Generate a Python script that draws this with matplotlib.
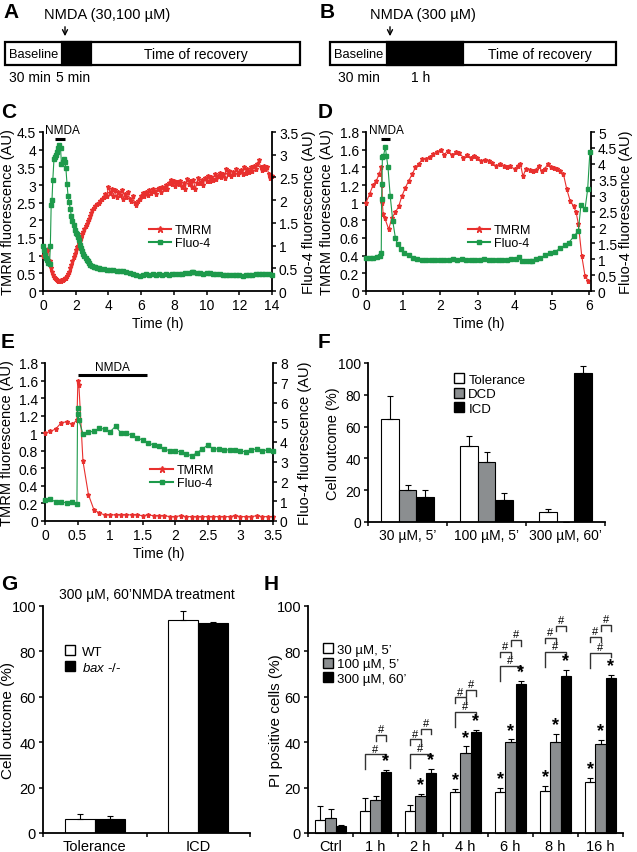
import matplotlib.pyplot as plt
import numpy as np
from matplotlib.patches import Rectangle, Patch
from matplotlib.lines import Line2D
from matplotlib.ticker import FormatStrFormatter

plt.rcParams['font.family'] = ['Liberation Sans', 'DejaVu Sans']
plt.rcParams['font.size'] = 9
plt.rcParams['mathtext.fontset'] = 'custom'
plt.rcParams['mathtext.rm'] = 'Liberation Sans'
plt.rcParams['mathtext.it'] = 'Liberation Sans:italic'

RED = '#e8302e'
GREEN = '#1d9a4b'
GRAY = '#8b8e90'

# ---- panel C: 30/100 uM, 5 min ----
c_tmrm_t = [0.0, 0.07, 0.13, 0.2, 0.27, 0.33, 0.4, 0.47, 0.53, 0.6, 0.67, 0.73, 0.8, 0.87, 0.93,
            1.0, 1.07, 1.13, 1.2, 1.27, 1.33, 1.4, 1.47, 1.53, 1.6, 1.67, 1.73, 1.8, 1.87, 1.93,
            2.0, 2.07, 2.13, 2.2, 2.27, 2.33, 2.4, 2.47, 2.53, 2.6, 2.67, 2.73, 2.8, 2.87, 2.93,
            3.0, 3.1, 3.2, 3.3, 3.4, 3.5, 3.6, 3.7, 3.8, 3.9, 4.0, 4.1, 4.2, 4.3, 4.4, 4.5, 4.6,
            4.7, 4.8, 4.9, 5.0, 5.1, 5.2, 5.3, 5.4, 5.5, 5.6, 5.7, 5.8, 5.9, 6.0, 6.1, 6.2, 6.3,
            6.4, 6.5, 6.6, 6.7, 6.8, 6.9, 7.0, 7.1, 7.2, 7.3, 7.4, 7.5, 7.6, 7.7, 7.8, 7.9, 8.0,
            8.1, 8.2, 8.3, 8.4, 8.5, 8.6, 8.7, 8.8, 8.9, 9.0, 9.1, 9.2, 9.3, 9.4, 9.5, 9.6, 9.7,
            9.8, 9.9, 10.0, 10.1, 10.2, 10.3, 10.4, 10.5, 10.6, 10.7, 10.8, 10.9, 11.0, 11.1,
            11.2, 11.3, 11.4, 11.5, 11.6, 11.7, 11.8, 11.9, 12.0, 12.1, 12.2, 12.3, 12.4, 12.5,
            12.6, 12.7, 12.8, 12.9, 13.0, 13.1, 13.2, 13.3, 13.4, 13.5, 13.6, 13.7, 13.8, 13.9, 14.0]
c_tmrm = [1.0, 1.12, 0.95, 1.1, 1.15, 1.2, 0.85, 0.65, 0.55, 0.45, 0.4, 0.36, 0.33, 0.31, 0.29,
          0.28, 0.29, 0.3, 0.31, 0.33, 0.36, 0.38, 0.42, 0.48, 0.55, 0.65, 0.75, 0.86, 0.97, 1.05,
          1.17, 1.25, 1.28, 1.33, 1.42, 1.5, 1.6, 1.68, 1.75, 1.85, 1.9, 1.98, 2.05, 2.12, 2.2,
          2.28, 2.35, 2.4, 2.45, 2.5, 2.55, 2.6, 2.65, 2.75, 2.7, 2.95, 2.78, 2.9, 2.7, 2.85, 2.65,
          2.8, 2.72, 2.85, 2.6, 2.75, 2.65, 2.8, 2.6, 2.55, 2.7, 2.48, 2.42, 2.55, 2.6, 2.7, 2.78,
          2.68, 2.8, 2.72, 2.85, 2.78, 2.9, 2.82, 2.75, 2.88, 2.92, 2.8, 2.95, 2.88, 3.0, 2.9,
          3.05, 3.15, 3.02, 3.1, 2.98, 3.08, 3.02, 3.12, 2.95, 3.05, 2.9, 3.18, 3.02, 3.1, 2.95,
          3.15, 2.88, 3.05, 3.2, 3.05, 3.15, 3.0, 3.2, 3.12, 3.25, 3.1, 3.22, 3.15, 3.3, 3.18,
          3.25, 3.35, 3.22, 3.3, 3.2, 3.45, 3.3, 3.4, 3.25, 3.38, 3.3, 3.45, 3.32, 3.38, 3.42,
          3.3, 3.5, 3.35, 3.45, 3.38, 3.5, 3.4, 3.55, 3.45, 3.6, 3.7, 3.5, 3.42, 3.55, 3.45,
          3.5, 3.3, 3.2, 3.25]
c_fluo_t = [0.0, 0.07, 0.13, 0.2, 0.27, 0.33, 0.4, 0.45, 0.5, 0.55, 0.6, 0.67, 0.73, 0.8, 0.87,
            0.93, 1.0, 1.07, 1.13, 1.2, 1.27, 1.33, 1.4, 1.47, 1.53, 1.6, 1.67, 1.73, 1.8, 1.87,
            1.93, 2.0, 2.07, 2.13, 2.2, 2.27, 2.33, 2.4, 2.47, 2.53, 2.6, 2.67, 2.73, 2.8, 2.9,
            3.0, 3.1, 3.2, 3.3, 3.4, 3.5, 3.7, 3.9, 4.1, 4.3, 4.5, 4.7, 4.9, 5.1, 5.3, 5.5, 5.7,
            5.9, 6.1, 6.3, 6.5, 6.7, 6.9, 7.1, 7.3, 7.5, 7.7, 7.9, 8.1, 8.3, 8.5, 8.7, 8.9, 9.1,
            9.2, 9.4, 9.6, 9.8, 10.0, 10.2, 10.4, 10.6, 10.8, 11.0, 11.2, 11.4, 11.6, 11.8, 12.0,
            12.2, 12.4, 12.6, 12.8, 13.0, 13.2, 13.4, 13.6, 13.8, 14.0]
c_fluo = [1.0, 0.9, 0.8, 0.72, 0.68, 0.62, 0.6, 1.0, 1.9, 2.0, 2.45, 2.9, 2.95, 3.0, 3.05,
          3.15, 3.22, 3.15, 2.8, 2.85, 2.9, 2.85, 2.7, 2.35, 2.1, 1.95, 1.8, 1.65, 1.55, 1.45,
          1.35, 1.28, 1.25, 1.18, 1.12, 1.02, 0.95, 0.88, 0.82, 0.76, 0.72, 0.68, 0.65, 0.62, 0.58,
          0.55, 0.53, 0.52, 0.51, 0.5, 0.49, 0.48, 0.47, 0.46, 0.46, 0.45, 0.44, 0.43, 0.42, 0.4,
          0.38, 0.36, 0.34, 0.36, 0.37, 0.36, 0.37, 0.36, 0.37, 0.36, 0.37, 0.36, 0.37, 0.37,
          0.38, 0.38, 0.39, 0.4, 0.41, 0.42, 0.4, 0.39, 0.38, 0.4, 0.39, 0.38, 0.37, 0.37, 0.36,
          0.36, 0.35, 0.35, 0.36, 0.35, 0.34, 0.35, 0.36, 0.36, 0.37, 0.37, 0.38, 0.37, 0.37, 0.36]

# ---- panel D: 300 uM, 1 h ----
d_tmrm_t = [0.0, 0.1, 0.19, 0.28, 0.35, 0.41, 0.43, 0.44, 0.46, 0.5, 0.61, 0.7, 0.79, 0.88, 0.97,
            1.06, 1.15, 1.24, 1.33, 1.42, 1.51, 1.62, 1.72, 1.81, 1.9, 2.02, 2.1, 2.2, 2.31, 2.42,
            2.51, 2.62, 2.71, 2.82, 2.91, 2.99, 3.1, 3.2, 3.3, 3.4, 3.49, 3.6, 3.7, 3.8, 3.88, 4.0,
            4.08, 4.15, 4.22, 4.3, 4.4, 4.5, 4.57, 4.64, 4.72, 4.8, 4.89, 4.98, 5.06, 5.13, 5.22,
            5.31, 5.4, 5.49, 5.58, 5.65, 5.71, 5.8, 5.89, 5.98]
d_tmrm = [1.0, 1.1, 1.2, 1.25, 1.32, 1.4, 1.2, 1.0, 0.87, 0.83, 0.7, 0.83, 0.89, 0.96, 1.08,
          1.17, 1.25, 1.32, 1.4, 1.44, 1.49, 1.5, 1.52, 1.55, 1.57, 1.6, 1.54, 1.59, 1.54, 1.57,
          1.56, 1.51, 1.54, 1.51, 1.53, 1.51, 1.47, 1.48, 1.47, 1.45, 1.41, 1.44, 1.42, 1.4, 1.41,
          1.38, 1.42, 1.44, 1.3, 1.38, 1.37, 1.36, 1.37, 1.42, 1.36, 1.38, 1.44, 1.4, 1.39, 1.38,
          1.36, 1.32, 1.15, 1.02, 0.96, 0.89, 0.76, 0.4, 0.17, 0.11]
d_fluo_t = [0.0, 0.1, 0.2, 0.3, 0.38, 0.41, 0.42, 0.43, 0.44, 0.47, 0.52, 0.55, 0.59, 0.65, 0.72,
            0.79, 0.85, 0.94, 1.03, 1.15, 1.26, 1.38, 1.5, 1.62, 1.74, 1.86, 1.98, 2.1, 2.22, 2.34,
            2.46, 2.58, 2.7, 2.82, 2.94, 3.06, 3.18, 3.3, 3.42, 3.54, 3.66, 3.78, 3.9, 4.02, 4.11,
            4.2, 4.3, 4.4, 4.47, 4.58, 4.69, 4.82, 4.95, 5.08, 5.22, 5.36, 5.45, 5.6, 5.71, 5.78,
            5.89, 5.96, 6.02]
d_fluo = [1.05, 1.05, 1.03, 1.06, 1.1, 1.18, 2.9, 3.36, 4.2, 4.25, 4.53, 4.25, 3.9, 3.0, 2.2,
          1.67, 1.47, 1.32, 1.21, 1.12, 1.03, 1.0, 0.98, 0.97, 0.96, 0.97, 0.98, 0.97, 0.99, 1.0,
          0.99, 1.0, 0.99, 0.98, 0.99, 0.98, 1.0, 0.99, 0.98, 0.99, 0.98, 0.99, 1.0, 1.0, 1.06,
          0.95, 0.94, 0.95, 0.95, 1.0, 1.05, 1.12, 1.19, 1.24, 1.34, 1.45, 1.52, 1.73, 1.9, 2.71,
          2.58, 3.2, 4.37]

# ---- panel E: 300 uM, 1 h, sustained ----
e_tmrm_t = [0.0, 0.083, 0.167, 0.25, 0.333, 0.417, 0.49, 0.505, 0.52, 0.583, 0.667, 0.75, 0.833,
            0.917, 1.0, 1.083, 1.167, 1.25, 1.333, 1.417, 1.5, 1.583, 1.667, 1.75, 1.833, 1.917,
            2.0, 2.083, 2.167, 2.25, 2.333, 2.417, 2.5, 2.583, 2.667, 2.75, 2.833, 2.917, 3.0,
            3.083, 3.167, 3.25, 3.333, 3.417, 3.5]
e_tmrm = [1.0, 1.02, 1.05, 1.12, 1.13, 1.1, 1.15, 1.6, 1.55, 0.68, 0.3, 0.13, 0.09, 0.07, 0.07,
          0.07, 0.07, 0.07, 0.07, 0.07, 0.06, 0.07, 0.06, 0.06, 0.06, 0.05, 0.05, 0.06, 0.05, 0.05,
          0.05, 0.05, 0.05, 0.05, 0.05, 0.05, 0.05, 0.06, 0.05, 0.05, 0.05, 0.06, 0.05, 0.05, 0.05]
e_fluo_t = [0.0, 0.083, 0.167, 0.25, 0.333, 0.417, 0.49, 0.5, 0.505, 0.52, 0.583, 0.667, 0.75,
            0.833, 0.917, 1.0, 1.083, 1.167, 1.25, 1.333, 1.417, 1.5, 1.583, 1.667, 1.75, 1.833,
            1.917, 2.0, 2.083, 2.167, 2.25, 2.333, 2.417, 2.5, 2.583, 2.667, 2.75, 2.833, 2.917,
            3.0, 3.083, 3.167, 3.25, 3.333, 3.417, 3.5]
e_fluo = [1.04, 1.12, 0.95, 0.95, 0.93, 0.95, 0.87, 5.7, 5.4, 5.1, 4.42, 4.5, 4.55, 4.7, 4.65,
          4.52, 4.8, 4.45, 4.45, 4.35, 4.2, 4.1, 3.95, 3.85, 3.8, 3.65, 3.55, 3.55, 3.5, 3.4, 3.3,
          3.45, 3.65, 3.85, 3.65, 3.65, 3.6, 3.6, 3.6, 3.55, 3.5, 3.6, 3.65, 3.55, 3.6, 3.55]

# ---- panel F ----
f_groups = ['30 µM, 5’', '100 µM, 5’', '300 µM, 60’']
f_tolerance = [65, 48, 6]
f_tolerance_err = [14, 6, 2]
f_dcd = [20, 38, 0]
f_dcd_err = [3, 6, 0]
f_icd = [16, 14, 94]
f_icd_err = [4, 4, 4]

# ---- panel G ----
g_groups = ['Tolerance', 'ICD']
g_wt = [6.2, 94]
g_wt_err = [2.0, 4.0]
g_bax = [6.0, 92.5]
g_bax_err = [1.3, 0.4]

# ---- panel H ----
h_groups = ['Ctrl', '1 h', '2 h', '4 h', '6 h', '8 h', '16 h']
h_30 = [5.9, 9.6, 9.9, 17.9, 18.1, 18.4, 22.6]
h_30_err = [5.9, 5.6, 2.4, 1.6, 1.8, 2.4, 1.6]
h_100 = [6.6, 14.4, 16.3, 35.3, 39.9, 40.3, 39.4]
h_100_err = [3.8, 1.9, 1.0, 2.9, 1.3, 3.4, 1.6]
h_300 = [3.1, 26.8, 26.3, 44.4, 65.7, 69.3, 68.5]
h_300_err = [0.3, 1.0, 2.0, 1.0, 1.3, 2.5, 1.0]
h_star_30 = [0, 0, 0, 1, 1, 1, 1]
h_star_100 = [0, 0, 1, 1, 1, 1, 1]
h_star_300 = [0, 1, 1, 1, 1, 1, 1]
# (group, series a, series b, bracket height)
h_brackets = [(1, 0, 2, 34.6), (1, 1, 2, 43.1),
              (2, 0, 2, 35.0), (2, 0, 1, 41.2), (2, 1, 2, 46.0),
              (3, 0, 2, 53.4), (3, 0, 1, 59.7), (3, 1, 2, 63.0),
              (4, 0, 2, 73.5), (4, 0, 1, 79.9), (4, 1, 2, 85.0),
              (5, 0, 2, 79.6), (5, 0, 1, 86.0), (5, 1, 2, 91.3),
              (6, 0, 2, 79.4), (6, 0, 1, 86.5), (6, 1, 2, 91.6)]

W, H = 637, 853
fig = plt.figure(figsize=(W / 100, H / 100), dpi=100)

TICK = 10
LAB = 10.5


def rect(x0, y0, x1, y1):
    return [x0 / W, 1 - y1 / H, (x1 - x0) / W, (y1 - y0) / H]


def letter(x, y, s):
    fig.text(x / W, 1 - y / H, s, fontsize=15, fontweight='bold', va='center', ha='left')


def style_axis(ax, size=TICK):
    for side in ('top', 'right'):
        ax.spines[side].set_visible(False)
    for side in ('left', 'bottom'):
        ax.spines[side].set_linewidth(1.3)
    ax.tick_params(direction='out', length=3, width=1.1, labelsize=size, pad=2)


def timeline(ax, x0, x1, base_end, black_end, arrow_x, nmda_label, nmda_x, under):
    ax.set_ylim(90, 0)
    ax.axis('off')
    ax.add_patch(Rectangle((x0, 43), x1 - x0, 23, fc='white', ec='black', lw=1.6))
    ax.add_patch(Rectangle((base_end, 43), black_end - base_end, 23, fc='black', ec='black', lw=1.6))
    ax.text((x0 + base_end) / 2, 54.5, 'Baseline', ha='center', va='center', fontsize=9.3)
    ax.text((black_end + x1) / 2, 54.5, 'Time of recovery', ha='center', va='center', fontsize=10)
    ax.annotate('', xy=(arrow_x, 40), xytext=(arrow_x, 25),
                arrowprops=dict(arrowstyle='->', color='black', lw=1.0))
    ax.text(nmda_x, 15, nmda_label, ha='left', va='center', fontsize=10.5)
    for xc, s in under:
        ax.text(xc, 78, s, ha='center', va='center', fontsize=10)


axA = fig.add_axes(rect(0, 0, 318, 90))
axA.set_xlim(0, 318)
timeline(axA, 5, 300, 62, 91, 65, 'NMDA (30,100 µM)', 44, [(30, '30 min'), (73, '5 min')])
axB = fig.add_axes(rect(318, 0, 637, 90))
axB.set_xlim(318, 637)
timeline(axB, 330, 616, 387, 463, 390, 'NMDA (300 µM)', 370, [(359, '30 min'), (421, '1 h')])
letter(3, 12, 'A')
letter(320, 12, 'B')


def dual(ax, tr, vr, tg, vg, xlim, xticks, ylim1, yticks1, ylim2, yticks2, bar, leg_xy, lab_x):
    style_axis(ax)
    ax.plot(tr, vr, color=RED, marker='*', ms=3.6, lw=0.8, clip_on=False, zorder=3)
    ax.set_xlim(*xlim)
    ax.set_xticks(xticks)
    ax.set_ylim(*ylim1)
    ax.set_yticks(yticks1)
    ax.xaxis.set_major_formatter(FormatStrFormatter('%g'))
    ax.yaxis.set_major_formatter(FormatStrFormatter('%g'))
    ax.set_ylabel('TMRM fluorescence (AU)', fontsize=LAB)
    ax.yaxis.set_label_coords(lab_x[0], 0.5)
    ax.set_xlabel('Time (h)', fontsize=10, labelpad=3)
    ax2 = ax.twinx()
    ax2.plot(tg, vg, color=GREEN, marker='s', ms=2.2, lw=0.8, clip_on=False, zorder=3)
    ax2.set_ylim(*ylim2)
    ax2.set_yticks(yticks2)
    ax2.yaxis.set_major_formatter(FormatStrFormatter('%g'))
    for side in ('top', 'left', 'bottom'):
        ax2.spines[side].set_visible(False)
    ax2.spines['right'].set_linewidth(1.3)
    ax2.tick_params(direction='out', length=3, width=1.1, labelsize=TICK, pad=2)
    ax2.set_ylabel('Fluo-4 fluorescence (AU)', fontsize=LAB)
    ax2.yaxis.set_label_coords(lab_x[1], 0.5)
    b0, b1, by, tx = bar
    ax.plot([b0, b1], [by, by], color='black', lw=2.2, solid_capstyle='butt', clip_on=False)
    ax.annotate('NMDA', xy=(tx, by), xytext=(0, 2), textcoords='offset points',
                ha='center', va='bottom', fontsize=8.5, annotation_clip=False)
    handles = [Line2D([], [], color=RED, marker='*', ms=5, lw=1.5),
               Line2D([], [], color=GREEN, marker='s', ms=3.5, lw=1.5)]
    ax2.legend(handles, ['TMRM', 'Fluo-4'], loc='upper left', bbox_to_anchor=leg_xy,
               frameon=False, fontsize=9, handlelength=1.8, handletextpad=0.3,
               labelspacing=0.05, borderaxespad=0)


axC = fig.add_axes(rect(43, 133, 272, 292))
dual(axC, c_tmrm_t, c_tmrm, c_fluo_t, c_fluo, (0, 14), np.arange(0, 15, 2),
     (0, 4.5), np.arange(0, 4.6, 0.5), (0, 3.5), np.arange(0, 3.6, 0.5),
     (0.76, 1.34, 4.31, 1.2), (0.44, 0.45), (-0.122, 1.131))
letter(1, 113, 'C')

axD = fig.add_axes(rect(366, 133, 591, 292))
dual(axD, d_tmrm_t, d_tmrm, d_fluo_t, d_fluo, (0, 6.05), np.arange(0, 7, 1),
     (0, 1.8), np.arange(0, 1.81, 0.2), (0, 5), np.arange(0, 5.1, 0.5),
     (0.4, 0.65, 1.72, 0.55), (0.43, 0.45), (-0.142, 1.124))
letter(318, 113, 'D')

axE = fig.add_axes(rect(45, 364, 273, 522))
dual(axE, e_tmrm_t, e_tmrm, e_fluo_t, e_fluo, (0, 3.5), np.arange(0, 3.6, 0.5),
     (0, 1.8), np.arange(0, 1.81, 0.2), (0, 8), np.arange(0, 9, 1),
     (0.5, 1.56, 1.66, 1.03), (0.44, 0.39), (-0.136, 1.11))
letter(1, 343, 'E')

# ---- F ----
axF = fig.add_axes(rect(368, 364, 605, 523))
style_axis(axF)
fx = np.arange(len(f_groups)) + 0.5
bw = 0.225
for off, vals, errs, col in [(-bw, f_tolerance, f_tolerance_err, 'white'),
                             (0, f_dcd, f_dcd_err, GRAY),
                             (bw, f_icd, f_icd_err, 'black')]:
    axF.bar(fx + off, vals, bw, color=col, edgecolor='black', lw=0.8, zorder=2)
    axF.errorbar(fx + off, vals, yerr=[np.zeros(len(errs)), errs], fmt='none',
                 ecolor='black', elinewidth=0.8, capsize=2.5, capthick=0.8, zorder=3)
axF.set_xlim(0, 3)
axF.set_ylim(0, 100)
axF.set_yticks(np.arange(0, 101, 20))
axF.set_xticks([0, 1, 2, 3])
axF.set_xticklabels([])
axF.set_xticks(fx, minor=True)
axF.set_xticklabels(f_groups, minor=True, fontsize=TICK)
axF.tick_params(axis='x', which='minor', length=0, pad=4)
axF.set_ylabel('Cell outcome (%)', fontsize=LAB)
axF.yaxis.set_label_coords(-0.118, 0.5)
axF.legend([Patch(fc='white', ec='black'), Patch(fc=GRAY, ec='black'), Patch(fc='black', ec='black')],
           ['Tolerance', 'DCD', 'ICD'], loc='upper left', bbox_to_anchor=(0.34, 0.97),
           frameon=False, fontsize=9.5, handlelength=0.8, handleheight=0.8,
           handletextpad=0.3, labelspacing=0.15, borderaxespad=0)
letter(318, 343, 'F')

# ---- G ----
axG = fig.add_axes(rect(43, 607, 250, 834))
style_axis(axG, 10.5)
gx = np.arange(len(g_groups)) + 0.5
gw = 0.29
for off, vals, errs, col in [(-gw / 2, g_wt, g_wt_err, 'white'), (gw / 2, g_bax, g_bax_err, 'black')]:
    axG.bar(gx + off, vals, gw, color=col, edgecolor='black', lw=0.8, zorder=2)
    axG.errorbar(gx + off, vals, yerr=[np.zeros(len(errs)), errs], fmt='none',
                 ecolor='black', elinewidth=0.8, capsize=2.5, capthick=0.8, zorder=3)
axG.set_xlim(0, 2)
axG.set_ylim(0, 100)
axG.set_yticks(np.arange(0, 101, 20))
axG.set_xticks([0, 1, 2])
axG.set_xticklabels([])
axG.set_xticks(gx, minor=True)
axG.set_xticklabels(g_groups, minor=True, fontsize=10.5)
axG.tick_params(axis='x', which='minor', length=0, pad=4)
axG.set_ylabel('Cell outcome (%)', fontsize=11)
axG.yaxis.set_label_coords(-0.135, 0.5)
axG.set_title('300 µM, 60’NMDA treatment', fontsize=10, pad=6)
axG.legend([Patch(fc='white', ec='black'), Patch(fc='black', ec='black')],
           ['WT', r'$\mathit{bax}$ -/-'], loc='upper left', bbox_to_anchor=(0.08, 0.85),
           frameon=False, fontsize=9.5, handlelength=0.8, handleheight=0.8,
           handletextpad=0.5, labelspacing=0.2, borderaxespad=0)
letter(1, 585, 'G')

# ---- H ----
axH = fig.add_axes(rect(308, 607, 623, 834))
style_axis(axH, 10.5)
hx = np.arange(len(h_groups)) + 0.5
hw = 0.23
series = [(h_30, h_30_err, h_star_30, 'white'),
          (h_100, h_100_err, h_star_100, GRAY),
          (h_300, h_300_err, h_star_300, 'black')]
for k, (vals, errs, stars, col) in enumerate(series):
    xs = hx + (k - 1) * hw
    axH.bar(xs, vals, hw, color=col, edgecolor='black', lw=0.8, zorder=2, clip_on=False)
    axH.errorbar(xs, vals, yerr=[np.zeros(len(errs)), errs], fmt='none',
                 ecolor='black', elinewidth=0.8, capsize=2.2, capthick=0.8, zorder=3, clip_on=False)
    for x, v, e, s in zip(xs, vals, errs, stars):
        if s:
            axH.text(x, v + e + 0.3, '*', ha='center', va='bottom', fontsize=13, fontweight='bold')
for g, a, b, top in h_brackets:
    xa = hx[g] + (a - 1) * hw
    xb = hx[g] + (b - 1) * hw
    if a == 0 and b == 2:
        la, lb = 6.5, 2.0
    else:
        la, lb = 2.5, 2.5
    axH.plot([xa, xa, xb, xb], [top - la, top, top, top - lb], color='#333333', lw=1.0)
    axH.text((xa + xb) / 2, top + 0.4, '#', ha='center', va='bottom', fontsize=8)
axH.set_xlim(0, 7)
axH.set_ylim(0, 100)
axH.set_yticks(np.arange(0, 101, 20))
axH.set_xticks(np.arange(0, 8))
axH.set_xticklabels([])
axH.set_xticks(hx, minor=True)
axH.set_xticklabels(h_groups, minor=True, fontsize=10.5)
axH.tick_params(axis='x', which='minor', length=0, pad=4)
axH.set_ylabel('PI positive cells (%)', fontsize=11)
axH.yaxis.set_label_coords(-0.079, 0.5)
axH.legend([Patch(fc='white', ec='black'), Patch(fc=GRAY, ec='black'), Patch(fc='black', ec='black')],
           ['30 µM, 5’', '100 µM, 5’', '300 µM, 60’'], loc='upper left', bbox_to_anchor=(0.03, 0.86),
           frameon=False, fontsize=9.5, handlelength=0.8, handleheight=0.8,
           handletextpad=0.3, labelspacing=0.15, borderaxespad=0)
letter(264, 585, 'H')

fig.savefig('out.png', dpi=100)
